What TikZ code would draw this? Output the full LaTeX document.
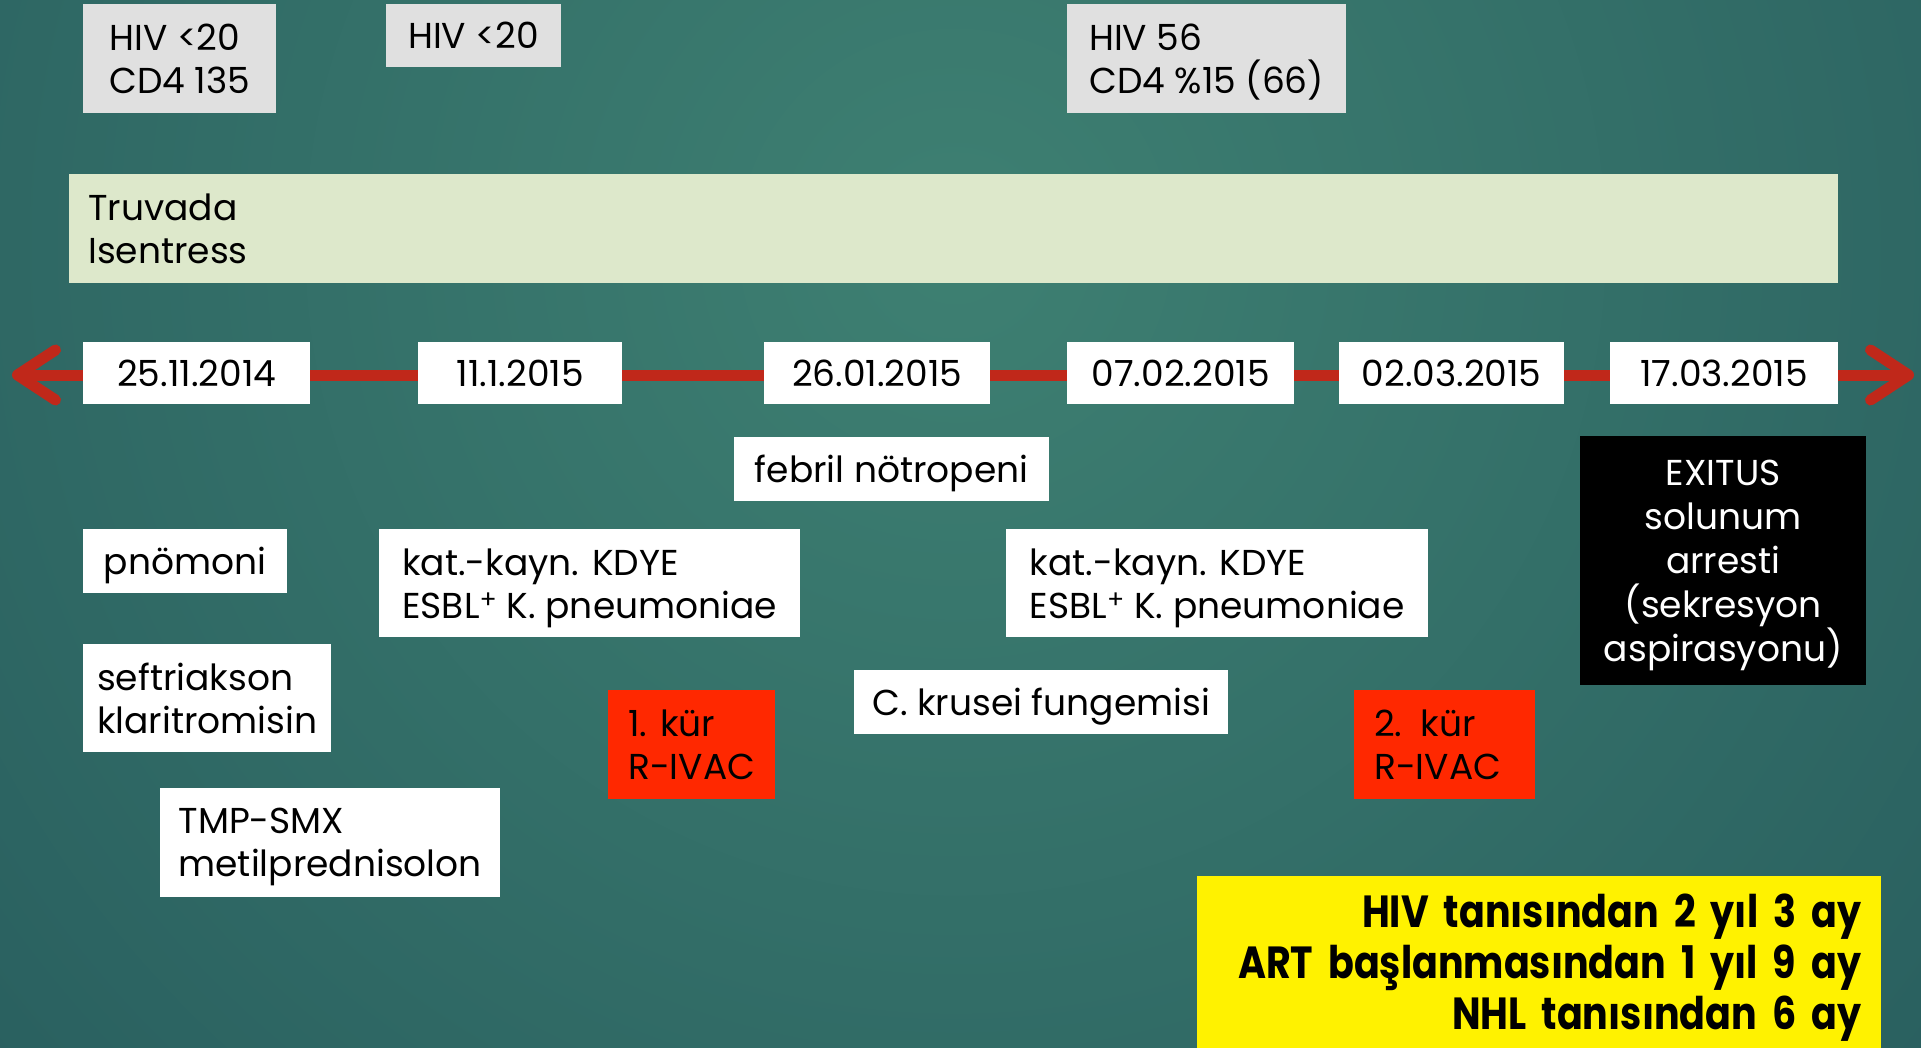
\documentclass[tikz,border=0pt]{standalone}
\usepackage{fontspec}
\setmainfont{Poppins}
\newfontfamily\notefam{Poppins}[FakeStretch=0.845]
\usetikzlibrary{arrows.meta}
\definecolor{slidein}{RGB}{62,128,114}
\definecolor{slideout}{RGB}{20,62,76}
\definecolor{labgrey}{RGB}{224,224,224}
\definecolor{drugbar}{RGB}{221,232,203}
\definecolor{axisred}{RGB}{192,40,26}
\definecolor{curered}{RGB}{255,40,0}
\newcommand{\bodyfont}{\fontsize{36}{43}\selectfont}
\newcommand{\notefont}{\notefam\fontsize{45}{51}\selectfont\bfseries}

\begin{document}
\begin{tikzpicture}[x=1pt,y=-1pt,
    parbox/.style={anchor=north west, inner xsep=20pt, inner ysep=0pt, align=left, font=\bodyfont, text=black, fill=white},
    evbox/.style={parbox, text depth=0pt},
    datebox/.style={evbox, align=center, minimum height=62pt},
    timeline/.style={draw=axisred, line width=11pt, {Straight Barb[length=38pt,width=50pt,line cap=round,line join=round]}-{Straight Barb[length=38pt,width=50pt,line cap=round,line join=round]}}]
  \useasboundingbox (0,0) rectangle (1921,1048);
  \clip (0,0) rectangle (1921,1048);
  % background
  \shade[inner color=slidein, outer color=slideout] (955,245) circle [radius=2600pt];

  % lab values
  \node[evbox, fill=labgrey, inner xsep=17pt, minimum width=193pt, minimum height=109pt] (labA) at (83,4) {HIV <20\\CD4 135};
  \node[evbox, fill=labgrey, minimum width=175pt, minimum height=63pt] (labB) at (386,4) {HIV <20};
  \node[evbox, fill=labgrey, inner xsep=17pt, minimum width=279pt, minimum height=109pt] (labC) at (1067,4) {HIV 56\\CD4 \%15 (66)};

  % ART
  \node[parbox, fill=drugbar, inner xsep=19pt, text width=1731pt, minimum height=109pt] (art) at (69,174) {Truvada\\Isentress};

  % time axis
  \coordinate (tl) at (12,375);
  \coordinate (tr) at (1914,375);
  \draw[timeline] (tl) -- (tr);
  \node[datebox, minimum width=227pt] (d1) at (83,342) {25.11.2014};
  \node[datebox, minimum width=204pt] (d2) at (418,342) {11.1.2015};
  \node[datebox, minimum width=226pt] (d3) at (764,342) {26.01.2015};
  \node[datebox, minimum width=227pt] (d4) at (1067,342) {07.02.2015};
  \node[datebox, minimum width=225pt] (d5) at (1339,342) {02.03.2015};
  \node[datebox, minimum width=228pt] (d6) at (1610,342) {17.03.2015};

  % events
  \node[evbox, minimum width=315pt, minimum height=64pt] (fn) at (734,437) {febril nötropeni};
  \node[evbox, minimum width=204pt, minimum height=64pt] (pn) at (83,529) {pnömoni};
  \node[evbox, minimum width=421pt, minimum height=108pt] (kdyeA) at (379,529) {kat.-kayn. KDYE\\ESBL\textsuperscript{+} K. pneumoniae};
  \node[evbox, minimum width=422pt, minimum height=108pt] (kdyeB) at (1006,529) {kat.-kayn. KDYE\\ESBL\textsuperscript{+} K. pneumoniae};
  \node[evbox, inner xsep=14pt, minimum width=248pt, minimum height=108pt] (abx) at (83,644) {seftriakson\\klaritromisin};
  \node[evbox, inner xsep=16pt, minimum width=340pt, minimum height=109pt] (pcp) at (160,788) {TMP-SMX\\metilprednisolon};
  \node[evbox, fill=curered, minimum width=167pt, minimum height=109pt] (cureA) at (608,690) {1. kür\\R-IVAC};
  \node[evbox, inner xsep=16pt, minimum width=374pt, minimum height=64pt] (cand) at (854,670) {C. krusei fungemisi};
  \node[parbox, fill=curered, text width=141pt, minimum height=109pt] (cureB) at (1354,690) {2. kür\\R-IVAC};
  \node[evbox, fill=black, text=white, align=center, minimum width=286pt, minimum height=249pt,
    font=\fontsize{36}{44}\selectfont] (exitus) at (1580,436) {EXITUS\\solunum\\arresti\\(sekresyon\\aspirasyonu)};

  % summary
  \node[parbox, fill=yellow, align=right, font=\notefont, text width=644pt, minimum height=182pt] (summary) at (1197,876) {HIV tanısından 2 yıl 3 ay\\ART başlanmasından 1 yıl 9 ay\\NHL tanısından 6 ay};
\end{tikzpicture}
\end{document}
